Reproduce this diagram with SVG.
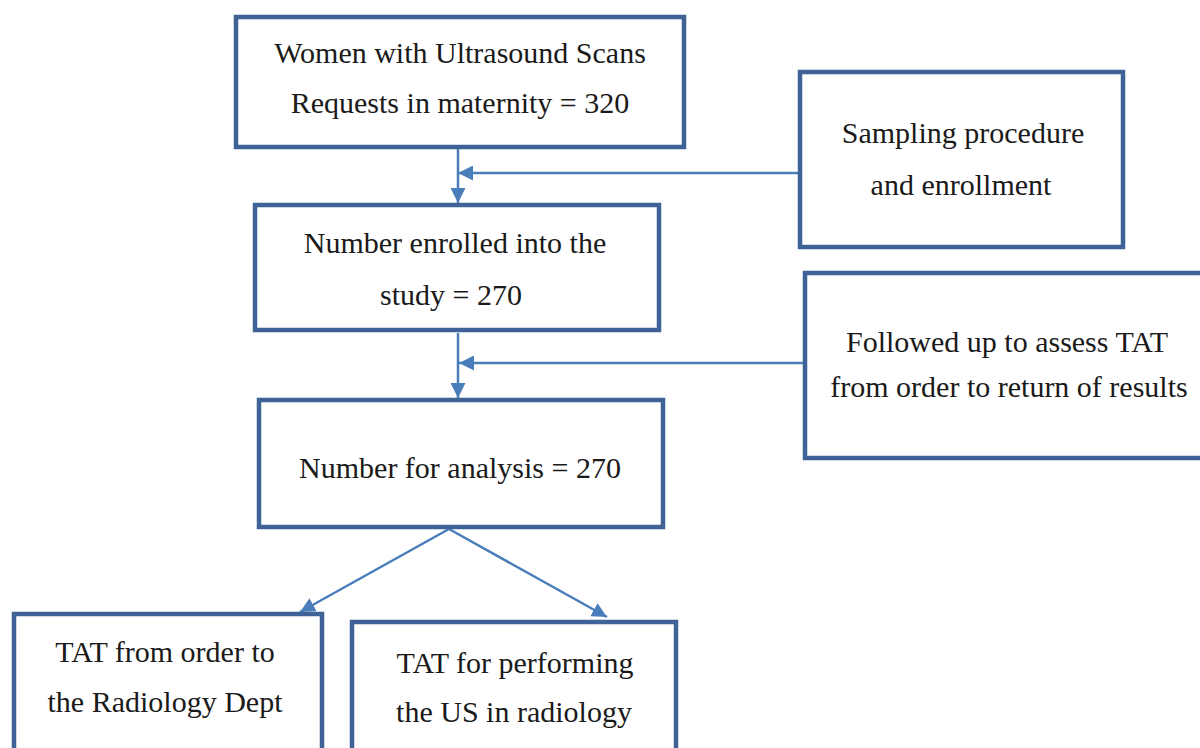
<svg xmlns="http://www.w3.org/2000/svg" width="1200" height="748" viewBox="0 0 1200 748">
<style>
.box{fill:#fff;stroke:#3f6396;stroke-width:4.5}
.t{font-family:"Liberation Serif","Times New Roman",serif;font-size:30px;fill:#1a1a1a;text-anchor:middle}
.c{stroke:#4a7ebb;stroke-width:2.5;fill:none}
</style>
<defs>
<marker id="ah" viewBox="0 0 10 10" refX="10" refY="5" markerWidth="6" markerHeight="6" markerUnits="strokeWidth" orient="auto">
<path d="M0,0 L10,5 L0,10 z" fill="#4a7ebb"/>
</marker>
</defs>
<rect width="1200" height="748" fill="#fff"/>
<g id="connectors">
<line class="c" x1="458" y1="149" x2="458" y2="203" marker-end="url(#ah)"/>
<line class="c" x1="798" y1="173" x2="458" y2="173" marker-end="url(#ah)"/>
<line class="c" x1="458" y1="333" x2="458" y2="398" marker-end="url(#ah)"/>
<line class="c" x1="805" y1="363" x2="459" y2="363" marker-end="url(#ah)"/>
<line class="c" x1="449" y1="529" x2="300" y2="612" marker-end="url(#ah)"/>
<line class="c" x1="449" y1="529" x2="607" y2="617" marker-end="url(#ah)"/>
</g>
<g id="n1">
<rect class="box" x="236" y="17" width="448" height="130"/>
<text class="t" x="460" y="63">Women with Ultrasound Scans</text>
<text class="t" x="460" y="113">Requests in maternity = 320</text>
</g>
<g id="n2">
<rect class="box" x="255" y="205" width="404" height="125"/>
<text class="t" x="455" y="253">Number enrolled into the</text>
<text class="t" x="451" y="305">study = 270</text>
</g>
<g id="n3">
<rect class="box" x="259" y="400" width="404" height="127"/>
<text class="t" x="460" y="478">Number for analysis = 270</text>
</g>
<g id="s1">
<rect class="box" x="800" y="72" width="323" height="175"/>
<text class="t" x="963" y="143">Sampling procedure</text>
<text class="t" x="961" y="195">and enrollment</text>
</g>
<g id="s2">
<rect class="box" x="805" y="273" width="410" height="185"/>
<text class="t" x="1007" y="352">Followed up to assess TAT</text>
<text class="t" x="1009" y="397">from order to return of results</text>
</g>
<g id="b1">
<rect class="box" x="14" y="614" width="308" height="150"/>
<text class="t" x="165" y="662">TAT from order to</text>
<text class="t" x="165" y="712">the Radiology Dept</text>
</g>
<g id="b2">
<rect class="box" x="352" y="622" width="324" height="150"/>
<text class="t" x="515" y="673">TAT for performing</text>
<text class="t" x="514" y="722">the US in radiology</text>
</g>
</svg>
